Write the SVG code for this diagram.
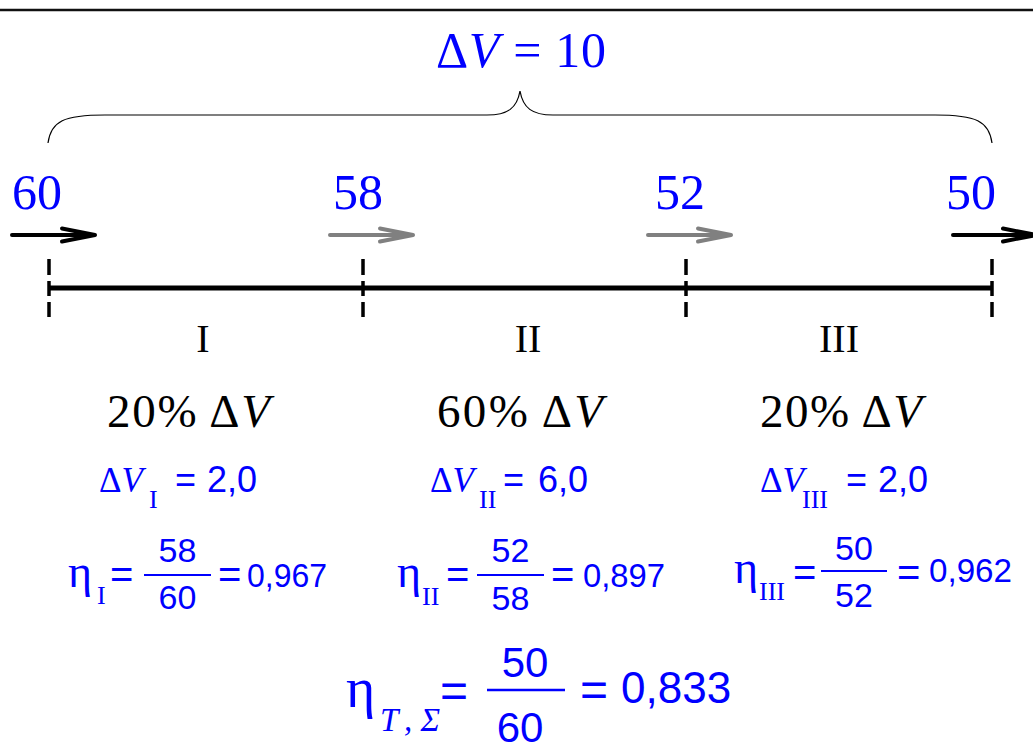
<svg xmlns="http://www.w3.org/2000/svg" width="1033" height="750" viewBox="0 0 1033 750">
<style>
.serif{font-family:"Liberation Serif","Times New Roman",serif}
.sans{font-family:"Liberation Sans",Arial,sans-serif}
.blue{fill:#0000ff}
.blk{fill:#000}
.it{font-style:italic}
.tick{stroke:#000;stroke-width:3.5;stroke-dasharray:16 6 15 6 15}
.frac{stroke:#0000ff;stroke-width:2}
</style>
<defs>
<path id="arr" d="M0,0 H83 M50,-6.5 L83,0 L50,6.5" fill="none" stroke="currentColor" stroke-width="4" stroke-linecap="round" stroke-linejoin="round"/>
</defs>
<rect width="1033" height="750" fill="#fff"/>
<line x1="0" y1="10" x2="1033" y2="10" stroke="#111" stroke-width="2.5"/>

<g id="total">
<text class="serif blue" x="436" y="67" font-size="50" textLength="170" lengthAdjust="spacing">Δ<tspan class="it">V</tspan> = 10</text>
<path d="M48,143 C51,121 64,115 105,115 L487,115 C508,115 517,108 520,91 C523,108 532,115 553,115 L935,115 C976,115 989,121 992,143" fill="none" stroke="#000" stroke-width="1.2"/>
</g>

<g id="connectors">
<line x1="48" y1="288" x2="992" y2="288" stroke="#000" stroke-width="5"/>
<use href="#arr" transform="translate(12,235)" color="#000"/>
<use href="#arr" transform="translate(330,235)" color="#808080"/>
<use href="#arr" transform="translate(648,235)" color="#808080"/>
<use href="#arr" transform="translate(953,235)" color="#000"/>
</g>

<g id="point-60">
<text class="serif blue" x="12" y="209" font-size="50">60</text>
<line class="tick" x1="49" y1="259" x2="49" y2="317"/>
</g>
<g id="point-58">
<text class="serif blue" x="333" y="209" font-size="50">58</text>
<line class="tick" x1="363" y1="259" x2="363" y2="317"/>
</g>
<g id="point-52">
<text class="serif blue" x="655" y="209" font-size="50">52</text>
<line class="tick" x1="686" y1="259" x2="686" y2="317"/>
</g>
<g id="point-50">
<text class="serif blue" x="946" y="209" font-size="50">50</text>
<line class="tick" x1="992" y1="259" x2="992" y2="317"/>
</g>

<g id="stage-I">
<text class="serif blk" x="203" y="352" font-size="40" text-anchor="middle">I</text>
<text class="serif blk" x="107" y="427" font-size="47" textLength="163" lengthAdjust="spacing">20% Δ<tspan class="it">V</tspan></text>
<text class="serif blue" x="99" y="492" font-size="35">Δ<tspan class="it">V</tspan></text>
<text class="serif blue" x="149" y="508" font-size="26">I</text>
<text class="sans blue" x="175" y="492" font-size="36">=</text>
<text class="sans blue" x="207" y="492" font-size="36">2,0</text>
<text class="serif blue" x="68" y="587" font-size="46">η</text>
<text class="serif blue" x="97" y="604" font-size="26">I</text>
<text class="sans blue" x="110" y="588" font-size="40">=</text>
<line class="frac" x1="144" y1="575" x2="211" y2="575"/>
<text class="sans blue" x="177.5" y="562" font-size="34" text-anchor="middle">58</text>
<text class="sans blue" x="177.5" y="609" font-size="34" text-anchor="middle">60</text>
<text class="sans blue" x="218" y="588" font-size="40">=</text>
<text class="sans blue" x="247" y="587" font-size="34" textLength="80" lengthAdjust="spacingAndGlyphs">0,967</text>
</g>

<g id="stage-II">
<text class="serif blk" x="528" y="352" font-size="40" text-anchor="middle">II</text>
<text class="serif blk" x="437" y="427" font-size="47" textLength="166" lengthAdjust="spacing">60% Δ<tspan class="it">V</tspan></text>
<text class="serif blue" x="430" y="492" font-size="35">Δ<tspan class="it">V</tspan></text>
<text class="serif blue" x="479" y="508" font-size="26">II</text>
<text class="sans blue" x="503" y="492" font-size="36">=</text>
<text class="sans blue" x="538" y="492" font-size="36">6,0</text>
<text class="serif blue" x="397" y="587" font-size="46">η</text>
<text class="serif blue" x="422" y="605" font-size="26">II</text>
<text class="sans blue" x="446" y="588" font-size="40">=</text>
<line class="frac" x1="477" y1="575" x2="544" y2="575"/>
<text class="sans blue" x="510.5" y="562" font-size="34" text-anchor="middle">52</text>
<text class="sans blue" x="510.5" y="610" font-size="34" text-anchor="middle">58</text>
<text class="sans blue" x="551" y="588" font-size="40">=</text>
<text class="sans blue" x="583" y="587" font-size="34" textLength="82" lengthAdjust="spacingAndGlyphs">0,897</text>
</g>

<g id="stage-III">
<text class="serif blk" x="839" y="352" font-size="40" text-anchor="middle">III</text>
<text class="serif blk" x="760" y="427" font-size="47" textLength="162" lengthAdjust="spacing">20% Δ<tspan class="it">V</tspan></text>
<text class="serif blue" x="760" y="492" font-size="35">Δ<tspan class="it">V</tspan></text>
<text class="serif blue" x="802" y="508" font-size="26">III</text>
<text class="sans blue" x="846" y="492" font-size="36">=</text>
<text class="sans blue" x="878" y="492" font-size="36">2,0</text>
<text class="serif blue" x="734" y="583" font-size="46">η</text>
<text class="serif blue" x="759" y="600" font-size="26">III</text>
<text class="sans blue" x="793" y="586" font-size="40">=</text>
<line class="frac" x1="821" y1="571" x2="887" y2="571"/>
<text class="sans blue" x="854" y="560" font-size="34" text-anchor="middle">50</text>
<text class="sans blue" x="854" y="607" font-size="34" text-anchor="middle">52</text>
<text class="sans blue" x="897" y="586" font-size="40">=</text>
<text class="sans blue" x="929" y="582" font-size="34" textLength="83" lengthAdjust="spacingAndGlyphs">0,962</text>
</g>

<g id="total-efficiency">
<text class="serif blue" x="346" y="707" font-size="56">η</text>
<text class="serif blue it" x="380" y="731" font-size="33" textLength="60" lengthAdjust="spacing">T,Σ</text>
<text class="sans blue" x="440" y="707" font-size="48">=</text>
<line x1="487" y1="690" x2="565" y2="690" stroke="#0000ff" stroke-width="2.5"/>
<text class="sans blue" x="525" y="677" font-size="42" text-anchor="middle">50</text>
<text class="sans blue" x="520" y="742" font-size="42" text-anchor="middle">60</text>
<text class="sans blue" x="580" y="706" font-size="48">=</text>
<text class="sans blue" x="621" y="703" font-size="44">0,833</text>
</g>
</svg>
